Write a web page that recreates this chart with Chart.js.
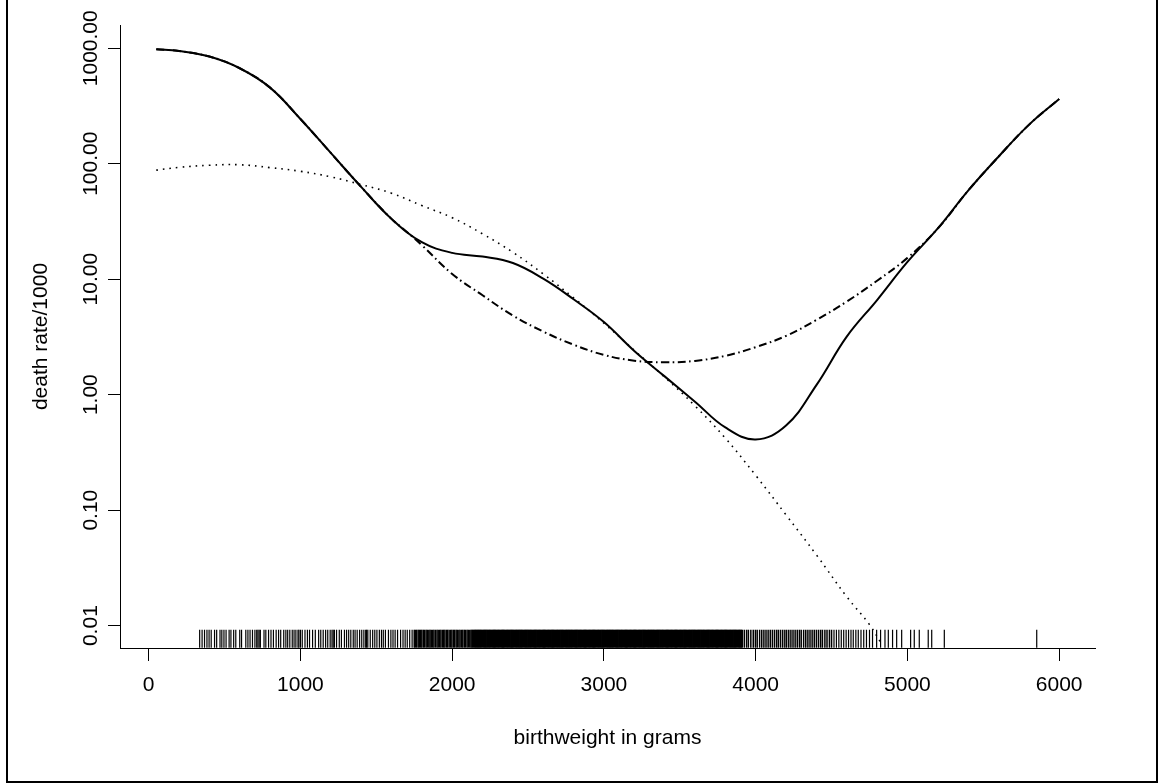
<!DOCTYPE html>
<html>
<head>
<meta charset="utf-8">
<script src="https://cdn.jsdelivr.net/npm/chart.js@4.4.1/dist/chart.umd.min.js"></script>
<style>
body{margin:0;background:#fff;}
#canvas1{display:block;}
</style>
</head>
<body>
<canvas id="canvas1" width="1159" height="783"></canvas>
<script>
// axis ticks
var xTicks = [0, 1000, 2000, 3000, 4000, 5000, 6000];
var yTicks = [0.01, 0.1, 1, 10, 100, 1000];

// solid curve
var solidX = [50, 200, 400, 600, 800, 1000, 1200, 1400, 1600, 1800, 2000, 2200, 2400, 2600, 2800, 3000, 3200, 3400, 3600, 3800, 4000, 4200, 4400, 4600, 4800, 5000, 5200, 5400, 5600, 5800, 6000];
var solidY = [980, 946, 847, 671, 456, 244, 124, 63, 33.3, 20.9, 16.9, 15.7, 13.8, 10.1, 6.7, 4.25, 2.39, 1.44, 0.87, 0.52, 0.41, 0.54, 1.21, 3.18, 6.6, 14.1, 27.5, 58.5, 115, 217, 364];

// dotted curve
var dotX = [50, 200, 400, 600, 800, 1000, 1200, 1400, 1600, 1800, 2000, 2200, 2400, 2600, 2800, 3000, 3200, 3400, 3600, 3800, 4000, 4200, 4400, 4600, 4750, 4825];
var dotY = [88, 93, 97, 98, 92.5, 86, 77, 66, 55.6, 43.4, 34.1, 24.7, 17.1, 11.1, 6.9, 4.16, 2.42, 1.42, 0.8, 0.42, 0.2, 0.091, 0.041, 0.0178, 0.0102, 0.0071];

// dot-dash curve
var dashX = [50, 200, 400, 600, 800, 1000, 1200, 1400, 1600, 1700, 1800, 2000, 2200, 2400, 2600, 2800, 3000, 3200, 3400, 3600, 3800, 4000, 4200, 4400, 4600, 4800, 5000, 5200, 5400, 5600, 5800, 6000];
var dashY = [980, 946, 847, 671, 456, 244, 124, 63, 33.3, 25.8, 19.7, 11.1, 7.26, 4.84, 3.52, 2.71, 2.21, 1.97, 1.91, 1.96, 2.17, 2.58, 3.23, 4.44, 6.4, 9.7, 15.3, 27.5, 58.5, 115, 217, 364];

// observed birthweights (rug)
var rugX = [336, 352, 368, 384, 398, 412, 434, 448, 470, 482, 496, 510, 530, 542, 560, 574, 600, 612, 640, 654, 668, 684, 700, 712, 720, 728, 736, 760, 772, 790, 806, 822, 840, 856, 870, 890, 904, 916, 930, 946, 958, 970, 984, 990, 1000, 1012, 1030, 1046, 1060, 1080, 1098, 1120, 1134, 1150, 1166, 1180, 1196, 1208, 1216, 1224, 1238, 1256, 1270, 1290, 1304, 1318, 1332, 1348, 1360, 1374, 1390, 1404, 1418, 1430, 1436, 1444, 1460, 1476, 1490, 1504, 1520, 1534, 1546, 1560, 1580, 1596, 1610, 1624, 1640, 1660, 1676, 1690, 1704, 1720, 1736,
1750, 1758, 1766, 1776, 1784, 1792, 1800, 1810, 1818, 1828, 1836, 1846, 1854, 1862, 1872, 1880, 1890, 1900, 1908, 1918, 1926, 1936, 1944, 1952, 1962, 1970, 1980, 1990, 1998, 2008, 2016, 2026, 2034, 2044, 2052, 2062, 2070, 2080, 2088, 2098, 2106, 2116, 2124,
2132, 2140, 2148, 2155, 2162, 2170, 2178, 2185, 2192, 2200, 2208, 2215, 2222, 2230, 2238, 2245, 2252, 2260, 2268, 2275, 2282, 2290, 2298, 2305, 2312, 2320, 2328, 2335, 2342, 2350, 2358, 2365, 2372, 2380, 2388, 2395, 2402, 2410, 2418, 2425, 2432, 2440, 2448, 2455, 2462, 2470, 2478, 2485, 2492, 2500, 2508, 2515, 2522, 2530, 2538, 2545, 2552, 2560, 2568, 2575, 2582, 2590, 2598, 2605, 2612, 2620, 2628, 2635, 2642, 2650, 2658, 2665, 2672, 2680, 2688, 2695, 2702, 2710, 2718, 2725, 2732, 2740, 2748, 2755, 2762, 2770, 2778, 2785, 2792, 2800, 2808, 2815, 2822, 2830, 2838, 2845, 2852, 2860, 2868, 2875, 2882, 2890, 2898, 2905, 2912, 2920, 2928, 2935, 2942, 2950, 2958, 2965, 2972, 2980, 2988, 2995, 3002, 3010, 3018, 3025, 3032, 3040, 3048, 3055, 3062, 3070, 3078, 3085, 3092, 3100, 3108, 3115, 3122, 3130, 3138, 3145, 3152, 3160, 3168, 3175, 3182, 3190, 3198, 3205, 3212, 3220, 3228, 3235, 3242, 3250, 3258, 3265, 3272, 3280, 3288, 3295, 3302, 3310, 3318, 3325, 3332, 3340, 3348, 3355, 3362, 3370, 3378, 3385, 3392, 3400, 3408, 3415, 3422, 3430, 3438, 3445, 3452, 3460, 3468, 3475, 3482, 3490, 3498, 3505, 3512, 3520, 3528, 3535, 3542, 3550, 3558, 3565, 3572, 3580, 3588, 3595, 3602, 3610, 3618, 3625, 3632, 3640, 3648, 3655, 3662, 3670, 3678, 3685, 3692, 3700, 3708, 3715, 3722, 3730, 3738, 3745, 3752, 3760, 3768, 3775, 3782, 3790, 3798, 3805, 3812, 3820, 3828, 3835, 3842, 3850, 3858, 3865, 3872, 3880, 3888, 3895, 3902, 3910,
3925, 3940, 3952, 3968, 3984, 3998, 4010, 4026, 4040, 4054, 4068, 4082, 4096, 4110, 4124, 4138, 4150, 4164, 4178, 4192, 4204, 4218, 4232, 4246, 4260, 4274, 4288, 4300, 4316, 4330, 4344, 4358, 4372, 4386, 4400, 4414, 4428, 4440, 4456, 4470, 4486, 4500, 4516, 4532, 4548, 4564, 4580, 4596, 4612, 4628, 4643, 4660, 4676, 4694, 4712, 4730, 4750, 4770, 4797, 4823, 4852, 4874, 4902, 4929, 4962, 5021, 5045, 5078, 5137, 5160, 5243, 5852];
var rugLevel = 0.0077;

var fontFamily = "'Liberation Sans', Arial, sans-serif";

function toPoints(xs, ys){
	var pts = [];
	for (var i = 0; i < xs.length; i++) {
		pts.push({x: xs[i], y: ys[i]});
	}
	return pts;
}

/**
 * frame around the figure + rotated y tick labels (R style)
 */
var rStyle = {
	id: 'rStyle',
	afterDraw: function(chart){
		var ctx = chart.ctx;
		var ys = chart.scales.y;
		ctx.save();
		ctx.strokeStyle = '#000';
		ctx.lineWidth = 2;
		ctx.strokeRect(7, -5, 1150, 787);
		ctx.fillStyle = '#000';
		ctx.font = "21px " + fontFamily;
		ctx.textAlign = 'center';
		ctx.textBaseline = 'middle';
		for (var i = 0; i < yTicks.length; i++) {
			var py = ys.getPixelForValue(yTicks[i]);
			ctx.save();
			ctx.translate(91, py);
			ctx.rotate(-Math.PI / 2);
			ctx.fillText(yTicks[i].toFixed(2), 0, 0);
			ctx.restore();
		}
		ctx.restore();
	}
};

var config = {
	type: 'scatter',
	data: {
		datasets: [{
			label: 'fit',
			data: toPoints(solidX, solidY),
			showLine: true,
			borderColor: '#000',
			borderWidth: 2,
			pointRadius: 0,
			tension: 0.4
		}, {
			label: 'dotted',
			data: toPoints(dotX, dotY),
			showLine: true,
			borderColor: '#000',
			borderWidth: 1.6,
			borderDash: [1.6, 5],
			pointRadius: 0,
			tension: 0.4
		}, {
			label: 'dotdash',
			data: toPoints(dashX, dashY),
			showLine: true,
			borderColor: '#000',
			borderWidth: 2,
			borderDash: [8, 3.5, 1.6, 3.5],
			pointRadius: 0,
			tension: 0.4
		}, {
			label: 'rug',
			data: rugX.map(function(v){ return {x: v, y: rugLevel}; }),
			showLine: false,
			pointStyle: 'line',
			rotation: 90,
			pointRadius: 9,
			// thicker strokes where the ticks merge into a solid band
			borderWidth: function(c){
				var v = c.raw ? c.raw.x : 0;
				if (v >= 2130 && v <= 3910) return 2;
				if (v >= 1750 && v <= 4500) return 1.5;
				return 1.2;
			},
			borderColor: '#000'
		}]
	},
	options: {
		responsive: false,
		animation: false,
		events: [],
		layout: {padding: {left: 0, top: 25, right: 64, bottom: 0}},
		plugins: {legend: {display: false}, tooltip: {enabled: false}},
		scales: {
			x: {
				type: 'linear',
				min: -189,
				max: 6236,
				afterBuildTicks: function(scale){
					scale.ticks = xTicks.map(function(v){ return {value: v}; });
				},
				afterFit: function(scale){ scale.height = 135; },
				grid: {drawOnChartArea: false, tickLength: 13, color: '#000', tickColor: '#000', tickWidth: 1},
				border: {color: '#000', width: 1},
				ticks: {color: '#000', padding: 12, maxRotation: 0, autoSkip: false,
					font: {family: fontFamily, size: 21},
					callback: function(v){ return String(v); }},
				title: {display: true, text: 'birthweight in grams', color: '#000',
					font: {family: fontFamily, size: 21}, padding: {top: 0, bottom: 32}}
			},
			y: {
				type: 'logarithmic',
				min: 0.0064,
				max: 1590,
				afterBuildTicks: function(scale){
					scale.ticks = yTicks.map(function(v){ return {value: v}; });
				},
				afterFit: function(scale){ scale.width = 120; },
				grid: {drawOnChartArea: false, tickLength: 12, color: '#000', tickColor: '#000', tickWidth: 1},
				border: {color: '#000', width: 1},
				ticks: {display: false},
				title: {display: true, text: 'death rate/1000', color: '#000',
					font: {family: fontFamily, size: 21}, padding: {top: 29, bottom: 0}}
			}
		}
	},
	plugins: [rStyle]
};

var ctx1 = document.getElementById("canvas1").getContext("2d");
window.myLine1 = new Chart(ctx1, config);
</script>
</body>
</html>
